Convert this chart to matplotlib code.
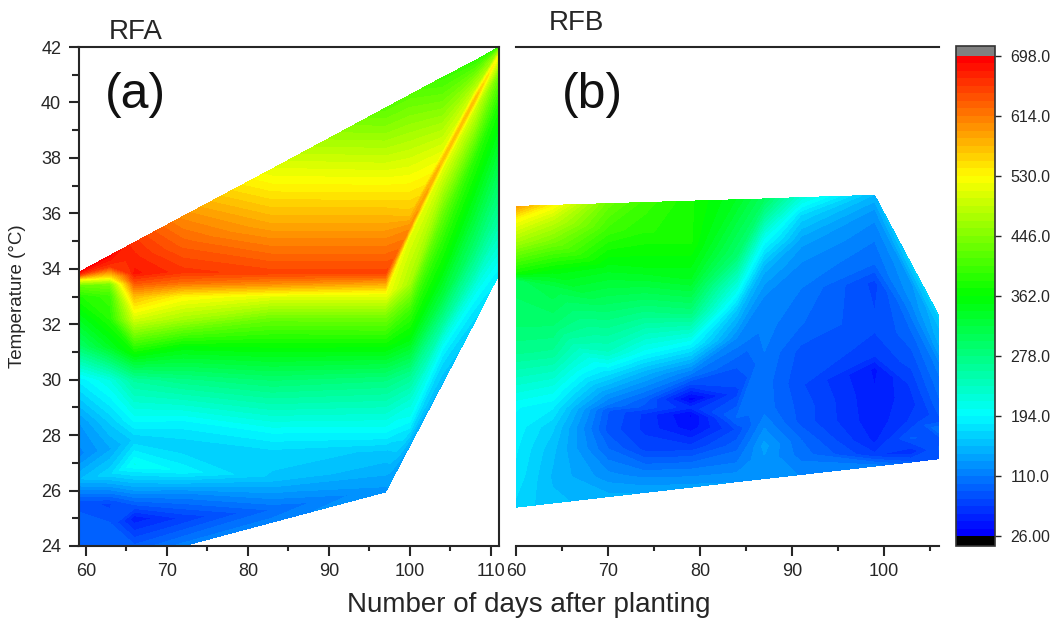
import matplotlib
matplotlib.use("Agg")
import matplotlib.pyplot as plt
from matplotlib.colors import LinearSegmentedColormap
from matplotlib.ticker import MultipleLocator
import numpy as np

plt.rcParams['font.family'] = ['Liberation Sans', 'DejaVu Sans']

# RFA panel, one list per sampled day (bottom to top)
days_a = [59, 63, 66, 72, 83, 97, 100, 104, 108, 111]
temp_a = [
    [23.0, 24.7, 25.6, 26.4, 27.3, 28.5, 30, 31.2, 32.2, 33, 33.4, 33.6, 33.75, 33.85],
    [23.31, 24.8, 25.5, 26.6, 27.5, 28.5, 30, 31.2, 32.2, 33, 33.45, 33.7, 34.1, 34.48],
    [23.54, 25.0, 26.0, 26.95, 27.85, 28.5, 30, 31, 32.2, 33, 33.5, 33.85, 34.4, 34.95],
    [24.0, 25.0, 25.9, 26.7, 27.6, 28.45, 30, 31.2, 32.2, 33, 33.5, 33.9, 34.9, 35.89],
    [24.86, 25.3, 25.9, 26.5, 27.4, 28.1, 30, 31.3, 32.2, 33, 33.45, 33.85, 35.7, 37.6],
    [25.95, 26.1, 26.3, 26.7, 27.4, 28.0, 30, 31.3, 32.3, 33.1, 33.5, 33.85, 36.5, 39.8],
    [27.62, 27.8, 28, 28.3, 28.7, 29.2, 30.2, 31.4, 32.5, 33.5, 35.2, 35.5, 35.9, 40.27],
    [29.85, 30.1, 30.5, 31, 31.5, 32, 33, 34, 35, 36, 37.6, 37.9, 38.2, 40.9],
    [32.08, 32.3, 32.6, 33, 33.4, 33.9, 34.8, 36, 37, 38, 39.8, 40.1, 40.4, 41.5],
    [33.8, 34.2, 34.6, 35, 35.6, 36.2, 37, 38, 39, 40, 41, 41.7, 41.9, 42],
]
vals_a = [
    [105, 95, 85, 150, 115, 130, 185, 290, 340, 380, 430, 520, 640, 690],
    [105, 90, 75, 170, 140, 165, 215, 340, 385, 400, 440, 540, 660, 690],
    [110, 50, 130, 205, 165, 195, 260, 370, 500, 570, 640, 680, 670, 660],
    [115, 70, 120, 190, 165, 190, 275, 360, 470, 530, 620, 660, 630, 600],
    [115, 100, 130, 160, 170, 195, 290, 370, 430, 510, 600, 650, 580, 510],
    [130, 130, 135, 145, 160, 190, 280, 370, 440, 520, 590, 650, 550, 420],
    [140, 150, 165, 185, 205, 220, 270, 350, 400, 470, 510, 600, 570, 420],
    [150, 160, 170, 190, 220, 260, 320, 360, 390, 430, 510, 570, 510, 400],
    [170, 175, 185, 200, 220, 250, 290, 330, 360, 390, 500, 570, 490, 390],
    [190, 200, 215, 230, 250, 270, 290, 320, 350, 380, 430, 520, 450, 390],
]

# RFB panel
days_b = [60, 64, 70, 74, 79, 84, 87, 91, 99, 103, 106]
temp_b = [
    [25.4, 26.5, 27.5, 28.3, 29, 29.8, 31, 32, 33.6, 33.85, 35, 35.8, 36.25],
    [25.55, 26.5, 27.5, 28.3, 29, 29.8, 31, 32, 33.4, 33.9, 35, 35.8, 36.29],
    [25.78, 26.5, 27.5, 28.2, 28.9, 29.1, 29.4, 30.2, 31, 32.5, 34, 35.4, 36.35],
    [25.93, 26.6, 27.5, 28.2, 28.75, 29, 29.3, 30.3, 31, 32.4, 34, 35.4, 36.39],
    [26.12, 26.9, 27.6, 28.3, 28.75, 29.0, 29.3, 30.2, 31.3, 32.4, 33.6, 35, 36.44],
    [26.32, 27, 27.6, 28.2, 28.5, 28.65, 29.5, 30.5, 31.5, 32.5, 33.2, 34.5, 36.49],
    [26.43, 27.2, 27.6, 28.5, 29, 30, 31, 32, 33, 34, 35.2, 36, 36.52],
    [26.58, 27.3, 27.8, 28.5, 29, 29.8, 31, 32, 33.3, 34.2, 35, 35.9, 36.57],
    [26.88, 27.3, 27.8, 28.5, 29.5, 30.4, 31, 32, 33.5, 34.2, 35, 36, 36.65],
    [27.03, 27.4, 27.9, 28.5, 29.2, 29.8, 30.5, 31.5, 32.5, 33, 33.5, 33.85, 34.16],
    [27.15, 27.5, 27.9, 28.2, 28.5, 29, 29.8, 30.5, 31, 31.4, 31.8, 32.1, 32.3],
]
vals_b = [
    [170, 180, 185, 190, 195, 225, 270, 290, 305, 370, 470, 530, 590],
    [155, 150, 155, 165, 185, 215, 265, 290, 320, 355, 440, 490, 530],
    [145, 125, 100, 85, 90, 110, 125, 175, 235, 290, 345, 400, 430],
    [140, 115, 75, 65, 65, 85, 95, 150, 200, 275, 350, 385, 400],
    [135, 105, 70, 40, 35, 60, 30, 110, 195, 280, 340, 375, 375],
    [130, 110, 95, 80, 95, 100, 75, 90, 120, 160, 205, 290, 340],
    [125, 130, 135, 115, 105, 105, 110, 115, 120, 145, 210, 270, 300],
    [120, 105, 100, 85, 85, 80, 85, 100, 110, 120, 135, 170, 220],
    [115, 70, 55, 50, 48, 45, 75, 80, 75, 100, 110, 125, 150],
    [90, 60, 90, 70, 65, 70, 80, 95, 115, 125, 130, 150, 165],
    [80, 90, 85, 110, 85, 95, 105, 115, 135, 145, 150, 160, 165],
]

cbar_ticks = [26, 110, 194, 278, 362, 446, 530, 614, 698]
cbar_labels = ['26.00', '110.0', '194.0', '278.0', '362.0', '446.0', '530.0', '614.0', '698.0']

W, H = 1055, 619
DARK = '#262626'


def px_axes(left, top, right, bottom):
    return fig.add_axes([left / W, 1 - bottom / H, (right - left) / W, (bottom - top) / H])


cmap = LinearSegmentedColormap.from_list('rainbow5', ['#0000ff', '#00ffff', '#00ff00', '#ffff00', '#ff0000'], N=64)
cmap.set_under('#000000')
cmap.set_over('#808080')
levels = np.linspace(26, 698, 65)

fig = plt.figure(figsize=(W / 100, H / 100), dpi=100)
ax_a = px_axes(78.5, 47, 499, 546)
ax_b = px_axes(516, 47, 939, 546)
cax = px_axes(956, 46, 995, 546)


def draw_panel(ax, days, temp, vals):
    y = np.array(temp).T
    z = np.array(vals, dtype=float).T
    x = np.tile(np.array(days, dtype=float), (y.shape[0], 1))
    return ax.contourf(x, y, z, levels=levels, cmap=cmap, extend='both')


cs = draw_panel(ax_a, days_a, temp_a, vals_a)
draw_panel(ax_b, days_b, temp_b, vals_b)

for ax in (ax_a, ax_b):
    ax.set_ylim(24, 42)
    ax.xaxis.set_major_locator(MultipleLocator(10))
    ax.xaxis.set_minor_locator(MultipleLocator(5))
    ax.tick_params(axis='x', which='major', length=7.5, width=1.5, color=DARK, labelcolor=DARK, labelsize=13, pad=5)
    ax.tick_params(axis='x', which='minor', length=3.5, width=1.5, color=DARK)
    for s in ax.spines.values():
        s.set_linewidth(1.5)
        s.set_color(DARK)

ax_a.set_xlim(59.1, 111)
ax_a.yaxis.set_major_locator(MultipleLocator(2))
ax_a.yaxis.set_minor_locator(MultipleLocator(1))
ax_a.tick_params(axis='y', which='major', length=7.5, width=1.5, color=DARK, labelcolor=DARK, labelsize=13, pad=5)
ax_a.tick_params(axis='y', which='minor', length=5, width=1.5, color=DARK)

ax_b.set_xlim(60, 106)
ax_b.spines['left'].set_visible(False)
ax_b.spines['right'].set_visible(False)
ax_b.yaxis.set_visible(False)

cb = fig.colorbar(cs, cax=cax, extend='both', extendrect=True, extendfrac=0.0208)
cb.set_ticks(cbar_ticks)
cb.set_ticklabels(cbar_labels)
cb.minorticks_off()
cb.ax.tick_params(length=4, width=1, color=DARK, labelcolor=DARK, labelsize=11.5, pad=7)
cb.outline.set_edgecolor('#333333')
cb.outline.set_linewidth(1.2)

fig.text(18 / W, 1 - 296 / H, 'Temperature (°C)', fontsize=13.5, color=DARK, rotation=90, ha='center', va='center')
fig.text(136 / W, 1 - 32 / H, 'RFA', fontsize=20, color=DARK, ha='center', va='center')
fig.text(576 / W, 1 - 23 / H, 'RFB', fontsize=20, color=DARK, ha='center', va='center')
fig.text(135 / W, 1 - 95 / H, '(a)', fontsize=36, color='#111111', ha='center', va='center')
fig.text(592 / W, 1 - 95 / H, '(b)', fontsize=36, color='#111111', ha='center', va='center')
fig.text(529 / W, 1 - 605 / H, 'Number of days after planting', fontsize=20, color=DARK, ha='center', va='center')

fig.savefig('out.png', dpi=100)
